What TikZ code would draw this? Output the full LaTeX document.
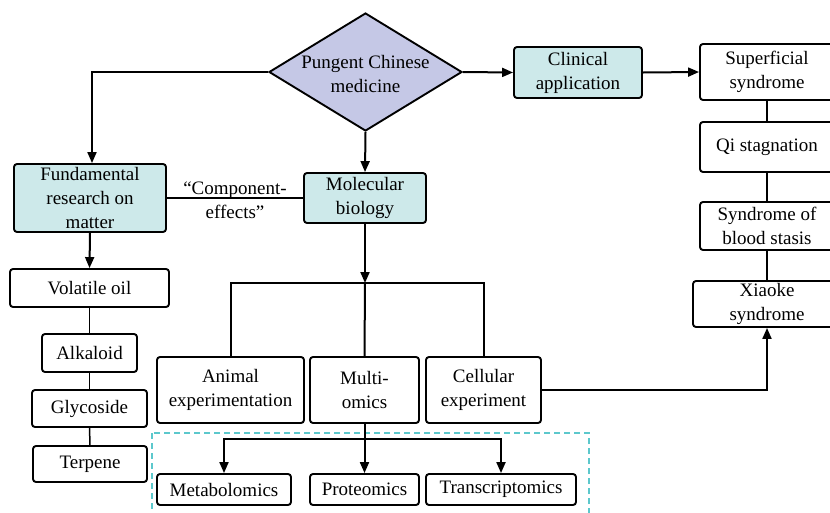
\documentclass[tikz,border=0pt]{standalone}
\usepackage{fontspec}
\setmainfont{Liberation Serif}
\usetikzlibrary{shapes.geometric,arrows.meta}
\definecolor{cyanfill}{RGB}{205,233,234}
\definecolor{lavfill}{RGB}{197,200,230}
\definecolor{dashcol}{RGB}{92,200,204}
\tikzset{
  box/.style={draw, line width=1.9pt, rounded corners=3pt, inner sep=0pt, align=center},
  cbox/.style={box, fill=cyanfill},
  arr/.style={line width=2pt, -{Triangle[length=11pt,width=9pt]}},
  conn/.style={line width=2pt},
  thinconn/.style={line width=1.5pt},
  txt/.style={align=center, inner sep=0pt}
}
\begin{document}
\begin{tikzpicture}[x=1pt,y=-1pt, font=\fontsize{19}{24}\selectfont]
\useasboundingbox (0,0) rectangle (830,512);
% dashed region
\draw[dashcol, line width=1.2pt, dash pattern=on 6pt off 4pt] (152,433) rectangle (589,520);
% nodes
\node[diamond, draw, line width=1.9pt, fill=lavfill, minimum width=193pt, minimum height=118pt, inner sep=0pt] (pcm) at (365.5,72) {};
\node[txt] (pcmt) at (365.5,74) {Pungent Chinese\\medicine};
\node[cbox, minimum width=128pt, minimum height=51pt] (clin) at (578,72.5) {Clinical\\application};
\node[box, minimum width=134pt, minimum height=56pt] (sup) at (767,72) {Superficial\\syndrome};
\node[box, minimum width=134pt, minimum height=50pt] (qi) at (767,147) {Qi stagnation};
\node[box, minimum width=134pt, minimum height=48pt] (blood) at (767,226) {Syndrome of\\blood stasis};
\node[box, minimum width=148pt, minimum height=46pt] (xiao) at (767,304) {Xiaoke\\syndrome};
\node[cbox, minimum width=152pt, minimum height=68pt] (fund) at (90,198) {Fundamental\\research on\\matter};
\node[cbox, minimum width=122pt, minimum height=50pt] (mol) at (365,198) {Molecular\\biology};
\node[box, minimum width=159pt, minimum height=38pt] (vol) at (89.5,288) {Volatile oil};
\node[box, minimum width=95pt, minimum height=38pt] (alk) at (89.5,353) {Alkaloid};
\node[box, minimum width=115pt, minimum height=37pt] (gly) at (89.5,408.5) {Glycoside};
\node[box, minimum width=114pt, minimum height=36pt] (ter) at (90,464) {Terpene};
\node[box, minimum width=147pt, minimum height=66pt] (ani) at (230.5,390) {Animal\\experimentation};
\node[box, minimum width=109pt, minimum height=66pt] (multi) at (364.5,390) {Multi-\\omics};
\node[box, minimum width=115pt, minimum height=66pt] (cell) at (483.5,390) {Cellular\\experiment};
\node[box, minimum width=134pt, minimum height=31pt] (meta) at (224,489.5) {Metabolomics};
\node[box, minimum width=109pt, minimum height=31pt] (prot) at (364.5,489.5) {Proteomics};
\node[box, minimum width=150pt, minimum height=31pt] (trans) at (501,489.5) {Transcriptomics};
\coordinate (bar1) at (365,283);
\coordinate (bar2) at (365,439);
% connectors
\draw[arr] (pcm.west) -| ([xshift=2pt]fund.north);
\draw[arr] (pcm.south) -- (mol.north);
\draw[arr] (pcm.east) -- (clin.west);
\draw[arr] (clin.east) -- (sup.west);
\draw[thinconn] (sup) -- (qi);
\draw[thinconn] (qi) -- (blood);
\draw[thinconn] (blood) -- (xiao);
\draw[thinconn] (fund.east) -- (mol.west);
\node[txt] (ce) at (235,200.5) {“Component-\\effects”};
\draw[arr] (fund.south) -- (vol.north);
\draw[thinconn] (vol) -- (alk);
\draw[thinconn] (alk) -- (gly);
\draw[thinconn] (gly) -- (ter);
\draw[arr] (mol.south) -- (bar1);
\draw[conn] (ani.north) |- (bar1) -| (cell.north);
\draw[conn] (multi.north) -- (bar1);
\draw[arr] (multi.south) -- (prot.north);
\draw[arr] (bar2) -| (meta.north);
\draw[arr] (bar2) -| (trans.north);
\draw[arr] (cell.east) -| (xiao.south);
\end{tikzpicture}
\end{document}
